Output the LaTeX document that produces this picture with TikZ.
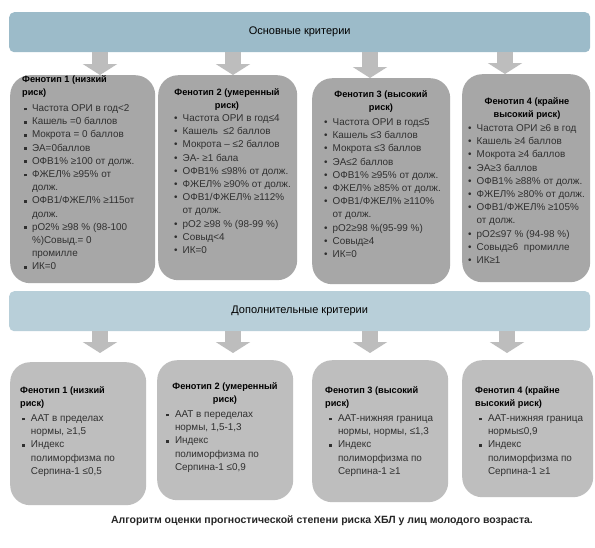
\documentclass[tikz,border=0pt]{standalone}
\usepackage{fontspec}
\setmainfont{Liberation Sans}
\usetikzlibrary{arrows.meta, math}
\definecolor{bannerA}{HTML}{9CBBC9}
\definecolor{bannerB}{HTML}{B8CFD9}
\definecolor{boxA}{HTML}{A7A7A7}
\definecolor{boxB}{HTML}{BEBEBE}
\definecolor{arrowgray}{HTML}{BDBDBD}
\definecolor{txtgray}{HTML}{303030}

\newcommand{\sqb}{\raisebox{0.2ex}{\rule{2.8pt}{2.8pt}}}
\newcommand{\rdb}{\textbullet}

\tikzset{
banner/.style={rounded corners=5pt, inner sep=0pt, anchor=north west},
phbox/.style={rounded corners=20pt, inner sep=0pt, anchor=north west},
phead/.style={font=\fontsize{9.2}{13}\selectfont\bfseries, inner sep=0pt},
plist/.style={font=\fontsize{9.9}{13.2}\selectfont, text=txtgray, inner sep=0pt, anchor=north west},
blockarrow/.style={draw=arrowgray, line width=16pt, -{Triangle[width=34pt,length=11pt]}},
}

\begin{document}
\begin{tikzpicture}[x=1pt,y=-1pt]
\useasboundingbox[fill=white] (0,0) rectangle (595,547);

%arrow columns
\coordinate (a1) at (100,0);
\coordinate (a2) at (233,0);
\coordinate (a3) at (370,0);
\coordinate (a4) at (505,0);
\coordinate (b1) at (100,353);
\coordinate (b2) at (233,353);
\coordinate (b3) at (370,353);
\coordinate (b4) at (507,353);

%banners
\node[banner, fill=bannerA, minimum width=581pt, minimum height=40pt] (main) at (9,12) {};
\node[font=\fontsize{11}{13}\selectfont] (maint) at (main.center) {Основные критерии};
\node[banner, fill=bannerB, minimum width=581pt, minimum height=40pt] (extra) at (9,291) {};
\node[font=\fontsize{11}{13}\selectfont] (extrat) at (extra.center) {Дополнительные критерии};

%top boxes
\node[phbox, fill=boxA, minimum width=145pt, minimum height=208pt] (p1) at (10,75) {};
\node[phbox, fill=boxA, minimum width=139pt, minimum height=205pt] (p2) at (158,75) {};
\node[phbox, fill=boxA, minimum width=138pt, minimum height=206pt] (p3) at (312,78) {};
\node[phbox, fill=boxA, minimum width=128pt, minimum height=208pt] (p4) at (462,74) {};

\draw[blockarrow] (main.south -| a1) -- (a1 |- p1.north);
\draw[blockarrow] (main.south -| a2) -- (a2 |- p2.north);
\draw[blockarrow] (main.south -| a3) -- (a3 |- p3.north);
\draw[blockarrow] (main.south -| a4) -- (a4 |- p4.north);

\node[phead, align=left, anchor=north west] (h1) at (22,75) {Фенотип 1 (низкий\\риск)};
\node[plist] (l1) at (24,102) {\begin{tabular}{@{}l@{\hspace{5pt}}l@{}}
\sqb & Частота ОРИ в год<2\\
\sqb & Кашель =0 баллов\\
\sqb & Мокрота = 0 баллов\\
\sqb & ЭА=0баллов\\
\sqb & ОФВ1\% ≥100 от долж.\\
\sqb & ФЖЕЛ\% ≥95\% от\\
 & долж.\\
\sqb & ОФВ1/ФЖЕЛ\% ≥115от\\
 & долж.\\
\sqb & рО2\% ≥98 \% (98-100\\
 & \%)Совыд.= 0\\
 & промилле\\
\sqb & ИК=0
\end{tabular}};

\node[phead, align=center, anchor=north] (h2) at (227,88) {Фенотип 2 (умеренный\\риск)};
\node[plist] (l2) at (174,112) {\begin{tabular}{@{}l@{\hspace{5pt}}l@{}}
\rdb & Частота ОРИ в год≤4\\
\rdb & Кашель \ ≤2 баллов\\
\rdb & Мокрота – ≤2 баллов\\
\rdb & ЭА- ≥1 бала\\
\rdb & ОФВ1\% ≤98\% от долж.\\
\rdb & ФЖЕЛ\% ≥90\% от долж.\\
\rdb & ОФВ1/ФЖЕЛ\% ≥112\%\\
 & от долж.\\
\rdb & рО2 ≥98 \% (98-99 \%)\\
\rdb & Совыд<4\\
\rdb & ИК=0
\end{tabular}};

\node[phead, align=center, anchor=north] (h3) at (381,90) {Фенотип 3 (высокий\\риск)};
\node[plist] (l3) at (324,116) {\begin{tabular}{@{}l@{\hspace{5pt}}l@{}}
\rdb & Частота ОРИ в год≤5\\
\rdb & Кашель ≤3 баллов\\
\rdb & Мокрота ≤3 баллов\\
\rdb & ЭА≤2 баллов\\
\rdb & ОФВ1\% ≥95\% от долж.\\
\rdb & ФЖЕЛ\% ≥85\% от долж.\\
\rdb & ОФВ1/ФЖЕЛ\% ≥110\%\\
 & от долж.\\
\rdb & рО2≥98 \%(95-99 \%)\\
\rdb & Совыд≥4\\
\rdb & ИК=0
\end{tabular}};

\node[phead, align=center, anchor=north] (h4) at (527,97) {Фенотип 4 (крайне\\высокий риск)};
\node[plist] (l4) at (468,122) {\begin{tabular}{@{}l@{\hspace{5pt}}l@{}}
\rdb & Частота ОРИ ≥6 в год\\
\rdb & Кашель ≥4 баллов\\
\rdb & Мокрота ≥4 баллов\\
\rdb & ЭА≥3 баллов\\
\rdb & ОФВ1\% ≥88\% от долж.\\
\rdb & ФЖЕЛ\% ≥80\% от долж.\\
\rdb & ОФВ1/ФЖЕЛ\% ≥105\%\\
 & от долж.\\
\rdb & рО2≤97 \% (94-98 \%)\\
\rdb & Совыд≥6 \ промилле\\
\rdb & ИК≥1
\end{tabular}};

%lower boxes
\node[phbox, fill=boxB, minimum width=136pt, minimum height=143pt] (q1) at (10,362) {};
\node[phbox, fill=boxB, minimum width=136pt, minimum height=140pt] (q2) at (157,360) {};
\node[phbox, fill=boxB, minimum width=136pt, minimum height=142pt] (q3) at (312,360) {};
\node[phbox, fill=boxB, minimum width=131pt, minimum height=137pt] (q4) at (462,360) {};

\draw[blockarrow] (extra.south -| b1) -- (b1);
\draw[blockarrow] (extra.south -| b2) -- (b2);
\draw[blockarrow] (extra.south -| b3) -- (b3);
\draw[blockarrow] (extra.south -| b4) -- (b4);

\node[phead, align=left, anchor=north west] (g1) at (20,386) {Фенотип 1 (низкий\\риск)};
\node[plist] (m1) at (22,412) {\begin{tabular}{@{}l@{\hspace{6pt}}l@{}}
\sqb & ААТ в пределах\\
 & нормы, ≥1,5\\
\sqb & Индекс\\
 & полиморфизма по\\
 & Серпина-1 ≤0,5
\end{tabular}};

\node[phead, align=center, anchor=north] (g2) at (225,382) {Фенотип 2 (умеренный\\риск)};
\node[plist] (m2) at (166,408) {\begin{tabular}{@{}l@{\hspace{6pt}}l@{}}
\sqb & ААТ в переделах\\
 & нормы, 1,5-1,3\\
\sqb & Индекс\\
 & полиморфизма по\\
 & Серпина-1 ≤0,9
\end{tabular}};

\node[phead, align=left, anchor=north west] (g3) at (325,386) {Фенотип 3 (высокий\\риск)};
\node[plist] (m3) at (329,412) {\begin{tabular}{@{}l@{\hspace{6pt}}l@{}}
\sqb & ААТ-нижняя граница\\
 & нормы, нормы, ≤1,3\\
\sqb & Индекс\\
 & полиморфизма по\\
 & Серпина-1 ≥1
\end{tabular}};

\node[phead, align=left, anchor=north west] (g4) at (475,386) {Фенотип 4 (крайне\\высокий риск)};
\node[plist] (m4) at (479,412) {\begin{tabular}{@{}l@{\hspace{6pt}}l@{}}
\sqb & ААТ-нижняя граница\\
 & нормы≤0,9\\
\sqb & Индекс\\
 & полиморфизма по\\
 & Серпина-1 ≥1
\end{tabular}};

%caption
\node[font=\fontsize{10.5}{13}\selectfont\bfseries, text=black!85] (cap) at (322,521) {Алгоритм оценки прогностической степени риска ХБЛ у лиц молодого возраста.};
\end{tikzpicture}
\end{document}
